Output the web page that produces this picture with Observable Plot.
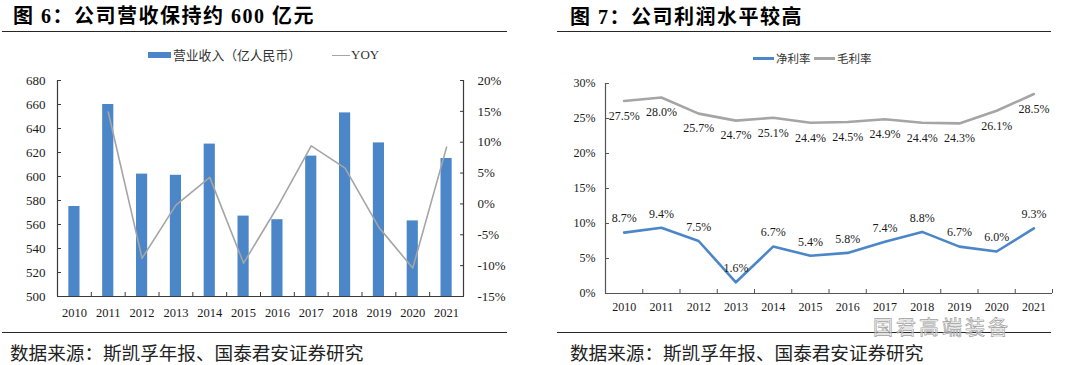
<!DOCTYPE html>
<html>
<head>
<meta charset="utf-8">
<script src="https://cdn.jsdelivr.net/npm/d3@7"></script>
<script src="https://cdn.jsdelivr.net/npm/@observablehq/plot@0.6"></script>
<style>
  html, body { margin: 0; padding: 0; background: #fff; }
  body { width: 1067px; height: 365px; overflow: hidden; position: relative;
         font-family: "Liberation Serif", "Noto Sans CJK SC", serif; color: #1a1a1a; }
  .abs { position: absolute; }
  .title { font-family: "Liberation Serif", "Noto Sans CJK SC", serif; font-weight: bold;
           font-size: 20px; letter-spacing: 1.5px; color: #000; white-space: nowrap; line-height: 20px; }
  .rule { height: 0; border-top: 1.4px solid #262626; }
  .caption { font-family: "Noto Sans CJK SC", sans-serif; font-size: 18.6px; color: #222;
             white-space: nowrap; line-height: 20px; }
  .legend { font-family: "Noto Sans CJK SC", sans-serif; color: #333; white-space: nowrap; line-height: 14px; }
  .swatch { position: absolute; }
  .wm { font-family: "Noto Sans CJK SC", sans-serif; font-size: 20px; color: rgba(255,255,255,0.55);
        -webkit-text-stroke: 0.7px #a0a0a0; white-space: nowrap; line-height: 20px; letter-spacing: 3px; }
  svg { overflow: visible; }
</style>
</head>
<body>
<div id="root"></div>
<script>
// ---------- data ----------
const years = [2010, 2011, 2012, 2013, 2014, 2015, 2016, 2017, 2018, 2019, 2020, 2021];
const revenue = [575, 660, 602, 601, 627, 567, 564, 617, 653, 628, 563, 615];          // 营业收入（亿人民币）
const yoy = [null, 14.9, -8.8, -0.2, 4.3, -9.6, -0.5, 9.4, 5.8, -3.8, -10.4, 9.2];      // YOY %
const netMargin = [8.7, 9.4, 7.5, 1.6, 6.7, 5.4, 5.8, 7.4, 8.8, 6.7, 6.0, 9.3];         // 净利率 %
const grossMargin = [27.5, 28.0, 25.7, 24.7, 25.1, 24.4, 24.5, 24.9, 24.4, 24.3, 26.1, 28.5]; // 毛利率 %

const revTicks = [500, 520, 540, 560, 580, 600, 620, 640, 660, 680];
const yoyTicks = [-15, -10, -5, 0, 5, 10, 15, 20];
const pctTicks = [0, 5, 10, 15, 20, 25, 30];
const boundaries = [2010.5, 2011.5, 2012.5, 2013.5, 2014.5, 2015.5, 2016.5, 2017.5, 2018.5, 2019.5, 2020.5];
const boundaries2 = [2010.5, 2011.5, 2012.5, 2013.5, 2014.5, 2015.5, 2016.5, 2017.5, 2018.5, 2019.5, 2020.5, 2021.5];

const titles = ["图 6：公司营收保持约 600 亿元", "图 7：公司利润水平较高"];
const caption = "数据来源：斯凯孚年报、国泰君安证券研究";
const legend1 = ["营业收入（亿人民币）", "YOY"];
const legend2 = ["净利率", "毛利率"];
const watermark = "国君高端装备";

// ---------- tables ----------
const revData = years.map((year, i) => ({year, revenue: revenue[i]}));
const yoyData = years.map((year, i) => ({year, yoy: yoy[i]})).filter(d => d.yoy != null);
const marginData = years.map((year, i) => ({year, net: netMargin[i], gross: grossMargin[i]}));

const BLUE = "#4a86c8", GREY = "#a5a5a5", AX = "#3a3a3a";
const root = document.getElementById("root");
function el(tag, cls, style, text) {
  const e = document.createElement(tag);
  if (cls) e.className = cls;
  Object.assign(e.style, style);
  if (text != null) e.textContent = text;
  root.appendChild(e);
  return e;
}

// ---------- panel chrome ----------
el("div", "abs title", {left: "13px", top: "6px"}, titles[0]);
el("div", "abs title", {left: "570px", top: "7px"}, titles[1]);
el("div", "abs rule", {left: "2px", top: "31px", width: "505px"});
el("div", "abs rule", {left: "557px", top: "31px", width: "494px"});
el("div", "abs rule", {left: "2px", top: "332px", width: "505px"});
el("div", "abs rule", {left: "557px", top: "332px", width: "494px"});
el("div", "abs caption", {left: "10px", top: "342px"}, caption);
el("div", "abs caption", {left: "570px", top: "342px"}, caption);

// legend left
el("div", "swatch", {left: "148px", top: "52px", width: "23px", height: "6px", background: BLUE});
el("div", "abs legend", {left: "173px", top: "48px", fontSize: "12.8px"}, legend1[0]);
el("div", "swatch", {left: "332px", top: "55px", width: "18px", height: "1.4px", background: GREY});
el("div", "abs legend", {left: "351px", top: "48px", fontSize: "13px", fontFamily: "Liberation Serif"}, legend1[1]);
// legend right
el("div", "swatch", {left: "753px", top: "57px", width: "21px", height: "2.5px", background: BLUE});
el("div", "abs legend", {left: "776px", top: "51px", fontSize: "11.5px"}, legend2[0]);
el("div", "swatch", {left: "814px", top: "57px", width: "21px", height: "2.5px", background: GREY});
el("div", "abs legend", {left: "837px", top: "51px", fontSize: "11.5px"}, legend2[1]);

// ---------- left chart: revenue bars + YOY ----------
const W1 = 520, H = 250;
const common1 = {
  width: W1, height: H, marginLeft: 57, marginRight: 57, marginTop: 10, marginBottom: 24,
  style: {fontFamily: "Liberation Serif", fontSize: "13px", color: "#1a1a1a", background: "transparent", overflow: "visible"}
};
const barPlot = Plot.plot({
  ...common1,
  x: {type: "linear", domain: [2009.5, 2021.5], label: null},
  y: {domain: [500, 680], label: null},
  marks: [
    Plot.rect(revData, {x1: d => d.year - 0.165, x2: d => d.year + 0.165, y1: 500, y2: "revenue", fill: BLUE}),
    Plot.ruleX([2009.5, 2021.5], {stroke: AX, strokeWidth: 1.2}),
    Plot.ruleY([500], {stroke: AX, strokeWidth: 1.2}),
    Plot.axisY({ticks: revTicks, tickSize: 0, tickPadding: 12, fontSize: 13}),
    Plot.axisY({ticks: revTicks, tickSize: 4, dx: 4, stroke: AX, tickFormat: () => ""}),
    Plot.axisX({ticks: boundaries, tickSize: 4, dy: -4, stroke: AX, tickFormat: () => ""}),
    Plot.axisX({ticks: years, tickSize: 0, tickPadding: 12, fontSize: 12.5, tickFormat: d => String(d)})
  ]
});
const yoyPlot = Plot.plot({
  ...common1,
  x: {type: "linear", domain: [2009.5, 2021.5], axis: null},
  y: {domain: [-15, 20], label: null},
  marks: [
    Plot.line(yoyData, {x: "year", y: "yoy", stroke: GREY, strokeWidth: 1.6}),
    Plot.axisY({anchor: "right", ticks: yoyTicks, tickSize: 0, tickPadding: 14, fontSize: 13, tickFormat: d => d + "%"}),
    Plot.axisY({anchor: "right", ticks: yoyTicks, tickSize: 4, dx: -4, stroke: AX, tickFormat: () => ""})
  ]
});
[barPlot, yoyPlot].forEach(p => {
  p.style.position = "absolute"; p.style.left = "0px"; p.style.top = "70px";
  root.appendChild(p);
});

// ---------- right chart: margins ----------
const marginPlot = Plot.plot({
  width: 527, height: 250, marginLeft: 65, marginRight: 15, marginTop: 13, marginBottom: 27,
  style: {fontFamily: "Liberation Serif", fontSize: "12px", color: "#1a1a1a", background: "transparent", overflow: "visible"},
  x: {type: "linear", domain: [2009.5, 2021.5], label: null},
  y: {domain: [0, 30], label: null},
  marks: [
    Plot.ruleX([2009.5], {stroke: "#555", strokeWidth: 1.2}),
    Plot.ruleY([0], {stroke: "#555", strokeWidth: 1.2}),
    Plot.axisY({ticks: pctTicks, tickSize: 0, tickPadding: 10, fontSize: 12, tickFormat: d => d + "%"}),
    Plot.axisY({ticks: pctTicks, tickSize: 4, dx: 4, stroke: "#555", tickFormat: () => ""}),
    Plot.axisX({ticks: boundaries2, tickSize: 4, dy: -4, stroke: "#555", tickFormat: () => ""}),
    Plot.axisX({ticks: years, tickSize: 0, tickPadding: 9, fontSize: 12, tickFormat: d => String(d)}),
    Plot.line(marginData, {x: "year", y: "gross", stroke: GREY, strokeWidth: 2.6}),
    Plot.line(marginData, {x: "year", y: "net", stroke: BLUE, strokeWidth: 2.6}),
    Plot.text(marginData, {x: "year", y: "gross", text: d => d.gross.toFixed(1) + "%", dy: 15, fontSize: 12}),
    Plot.text(marginData, {x: "year", y: "net", text: d => d.net.toFixed(1) + "%", dy: -14, fontSize: 12})
  ]
});
marginPlot.style.position = "absolute"; marginPlot.style.left = "540px"; marginPlot.style.top = "70px";
root.appendChild(marginPlot);

// watermark overlay (kept below the year labels)
el("div", "abs wm", {left: "873px", top: "317px"}, watermark);
</script>
</body>
</html>
